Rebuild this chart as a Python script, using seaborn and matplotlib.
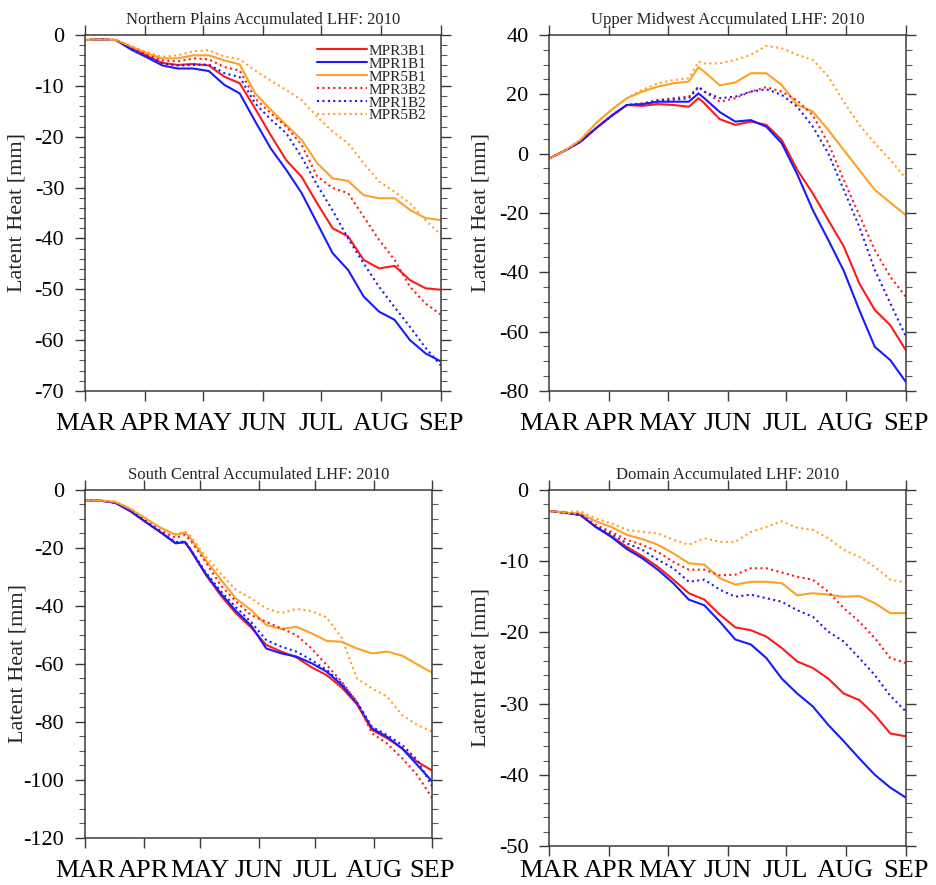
import numpy as np
import pandas as pd
import seaborn as sns
import matplotlib.pyplot as plt
from matplotlib.ticker import MultipleLocator

# days since 1 March 2010
MONTH_DAYS = [0, 31, 61, 92, 122, 153, 184]
MONTH_LABELS = ["MAR", "APR", "MAY", "JUN", "JUL", "AUG", "SEP"]

SERIES = ["MPR3B1", "MPR1B1", "MPR5B1", "MPR3B2", "MPR1B2", "MPR5B2"]

# ---- Northern Plains ----
np_days = [0, 8, 16, 24, 32, 40, 48, 56, 64, 72, 80, 88, 96, 104, 112, 120, 128, 136, 144, 152, 160, 168, 176, 184]
np_mpr3b1 = [-1.0, -0.9, -1.0, -2.6, -4.1, -5.5, -5.9, -5.7, -6.0, -8.2, -9.5, -14.5, -19.7, -24.6, -27.9, -33.1, -38.0, -39.6, -44.2, -45.9, -45.4, -48.2, -49.8, -50.1]
np_mpr1b1 = [-1.0, -0.9, -1.0, -2.9, -4.4, -6.0, -6.6, -6.6, -7.1, -9.8, -11.5, -17.0, -22.3, -26.5, -31.1, -37.0, -42.9, -46.2, -51.4, -54.4, -56.0, -60.0, -62.6, -64.2]
np_mpr5b1 = [-1.0, -0.9, -1.0, -2.3, -3.6, -4.6, -4.6, -4.0, -4.0, -5.0, -5.8, -11.5, -14.7, -17.7, -20.6, -25.2, -28.2, -28.7, -31.5, -32.1, -32.1, -34.4, -36.0, -36.4]
np_mpr3b2 = [-1.0, -0.9, -1.0, -2.5, -3.9, -5.0, -5.2, -4.6, -4.8, -6.3, -7.0, -12.5, -15.4, -18.0, -21.6, -27.8, -30.1, -31.1, -35.7, -40.3, -44.2, -49.5, -52.8, -55.0]
np_mpr1b2 = [-1.0, -0.9, -1.0, -2.8, -4.2, -5.6, -6.0, -5.9, -5.8, -7.5, -8.3, -13.5, -16.6, -19.3, -24.0, -29.5, -34.5, -40.0, -44.9, -49.5, -53.5, -57.4, -61.5, -65.0]
np_mpr5b2 = [-1.0, -0.9, -1.0, -2.2, -3.4, -4.3, -4.0, -3.2, -3.0, -4.2, -4.8, -7.0, -9.0, -10.8, -12.8, -16.1, -19.0, -21.3, -25.2, -28.8, -30.8, -33.1, -36.4, -39.3]

# ---- Upper Midwest ----
um_days = [0, 8, 16, 24, 32, 40, 48, 56, 64, 72, 77, 80, 88, 96, 104, 112, 120, 128, 136, 144, 152, 160, 168, 176, 184]
um_mpr3b1 = [-1.6, 1.0, 4.0, 8.5, 12.7, 16.4, 16.1, 16.7, 16.4, 15.8, 18.7, 17.0, 11.6, 9.7, 10.8, 9.7, 4.6, -5.5, -13.4, -22.4, -31.3, -43.7, -52.7, -57.8, -66.2]
um_mpr1b1 = [-1.6, 1.0, 4.0, 8.5, 12.7, 16.4, 16.7, 17.5, 17.5, 17.5, 20.3, 18.7, 14.0, 10.8, 11.3, 9.1, 3.5, -7.0, -19.0, -29.1, -39.5, -52.7, -65.1, -69.6, -76.9]
um_mpr5b1 = [-1.6, 1.0, 4.6, 10.2, 14.7, 18.7, 20.9, 22.6, 23.7, 24.3, 29.1, 27.6, 23.0, 24.0, 27.1, 27.1, 23.1, 16.4, 14.2, 8.0, 1.2, -5.5, -12.2, -16.5, -20.7]
um_mpr3b2 = [-1.6, 1.0, 4.0, 8.5, 12.7, 16.4, 16.9, 18.1, 18.7, 19.2, 22.6, 20.9, 17.5, 18.7, 20.9, 22.4, 20.9, 17.9, 13.0, 3.5, -8.9, -20.7, -32.5, -41.5, -48.2]
um_mpr1b2 = [-1.6, 1.0, 4.0, 8.5, 12.7, 16.4, 16.8, 17.8, 18.2, 18.7, 22.4, 20.9, 18.7, 19.2, 20.9, 21.7, 19.8, 15.8, 9.1, 0.1, -12.2, -24.6, -39.2, -50.4, -61.5]
um_mpr5b2 = [-1.6, 1.0, 4.6, 10.2, 14.7, 18.7, 21.5, 23.7, 24.8, 25.4, 31.0, 30.4, 30.4, 31.6, 33.3, 36.3, 35.5, 33.3, 31.6, 26.0, 17.5, 9.7, 3.5, -2.1, -8.3]

# ---- South Central ----
sc_days = [0, 8, 16, 24, 32, 40, 48, 53, 56, 64, 72, 80, 88, 96, 104, 112, 120, 128, 136, 144, 152, 160, 168, 176, 184]
sc_mpr3b1 = [-3.7, -3.7, -4.4, -7.3, -11.0, -14.6, -18.4, -18.0, -20.8, -29.3, -36.5, -42.6, -47.5, -53.5, -55.8, -57.8, -61.2, -63.9, -68.2, -73.9, -82.8, -85.7, -89.2, -93.8, -96.9]
sc_mpr1b1 = [-3.7, -3.7, -4.4, -7.3, -11.0, -14.6, -18.4, -18.0, -20.8, -29.0, -35.8, -41.8, -46.8, -54.7, -56.4, -57.5, -59.8, -62.7, -67.3, -73.6, -82.3, -85.2, -89.2, -94.9, -100.7]
sc_mpr5b1 = [-3.7, -3.7, -4.1, -6.5, -9.8, -13.0, -15.5, -14.7, -16.8, -24.2, -31.0, -37.5, -41.5, -46.6, -48.0, -47.2, -49.5, -52.1, -52.4, -54.7, -56.4, -55.8, -57.2, -60.2, -63.1]
sc_mpr3b2 = [-3.7, -3.7, -4.4, -7.0, -10.5, -14.0, -16.5, -15.5, -17.5, -25.0, -33.0, -38.5, -43.2, -45.5, -47.8, -50.1, -54.7, -60.4, -66.2, -73.1, -84.0, -87.5, -92.6, -98.4, -106.4]
sc_mpr1b2 = [-3.7, -3.7, -4.4, -7.2, -10.8, -14.4, -18.0, -17.8, -20.5, -28.5, -35.0, -40.5, -45.6, -51.8, -54.1, -55.8, -58.7, -62.1, -66.7, -73.1, -81.7, -84.6, -88.0, -93.2, -102.4]
sc_mpr5b2 = [-3.7, -3.7, -4.1, -6.5, -9.8, -13.2, -15.2, -14.5, -16.0, -23.0, -29.0, -34.5, -37.4, -40.9, -42.5, -41.1, -41.8, -44.0, -51.0, -65.0, -68.5, -71.3, -77.7, -81.1, -83.4]

# ---- Domain ----
dm_days = [0, 8, 16, 24, 32, 40, 48, 56, 64, 72, 80, 88, 96, 104, 112, 120, 128, 136, 144, 152, 160, 168, 176, 184]
dm_mpr3b1 = [-2.95, -3.2, -3.5, -5.2, -6.5, -8.0, -9.3, -10.8, -12.6, -14.5, -15.4, -17.5, -19.3, -19.7, -20.6, -22.2, -24.1, -25.0, -26.5, -28.6, -29.5, -31.6, -34.2, -34.6]
dm_mpr1b1 = [-2.95, -3.2, -3.5, -5.2, -6.6, -8.3, -9.6, -11.2, -13.1, -15.4, -16.2, -18.5, -21.0, -21.7, -23.6, -26.5, -28.6, -30.4, -33.0, -35.3, -37.7, -40.0, -41.8, -43.2]
dm_mpr5b1 = [-2.95, -3.2, -3.3, -4.4, -5.2, -6.3, -6.9, -7.7, -8.9, -10.3, -10.5, -12.4, -13.3, -12.9, -12.9, -13.1, -14.8, -14.5, -14.7, -15.0, -14.9, -15.9, -17.3, -17.3]
dm_mpr3b2 = [-2.95, -3.2, -3.4, -4.9, -5.9, -7.0, -7.7, -8.7, -10.1, -11.2, -11.2, -12.0, -11.9, -11.0, -11.0, -11.6, -12.2, -12.6, -14.3, -16.6, -18.5, -20.8, -23.6, -24.3]
dm_mpr1b2 = [-2.95, -3.2, -3.5, -5.2, -6.2, -7.5, -8.4, -9.8, -11.0, -12.9, -12.6, -14.0, -15.0, -14.7, -15.2, -15.7, -16.9, -17.8, -19.9, -21.3, -23.6, -26.0, -28.9, -31.1]
dm_mpr5b2 = [-2.95, -3.1, -3.0, -4.0, -4.7, -5.6, -5.9, -6.1, -7.0, -7.7, -6.8, -7.3, -7.3, -5.9, -5.2, -4.4, -5.3, -5.6, -6.8, -8.4, -9.4, -10.8, -12.6, -13.0]

COLORS = ["#ff1a1a", "#1a1aff", "#ffa126", "#ff1a1a", "#1a1aff", "#ffa126"]
STYLES = ["-", "-", "-", (0, (1, 1.6)), (0, (1, 1.6)), (0, (1, 1.6))]

panels = [
    ("Northern Plains Accumulated LHF: 2010", np_days,
     [np_mpr3b1, np_mpr1b1, np_mpr5b1, np_mpr3b2, np_mpr1b2, np_mpr5b2],
     (-70, 0), 10, 2, [0.0908, 0.5582, 0.3803, 0.4023], True, 9),
    ("Upper Midwest Accumulated LHF: 2010", um_days,
     [um_mpr3b1, um_mpr1b1, um_mpr5b1, um_mpr3b2, um_mpr1b2, um_mpr5b2],
     (-80, 40), 20, 5, [0.5869, 0.5582, 0.3808, 0.4023], False, 9),
    ("South Central Accumulated LHF: 2010", sc_days,
     [sc_mpr3b1, sc_mpr1b1, sc_mpr5b1, sc_mpr3b2, sc_mpr1b2, sc_mpr5b2],
     (-120, 0), 20, 5, [0.0908, 0.0535, 0.3711, 0.3929], False, 9),
    ("Domain Accumulated LHF: 2010", dm_days,
     [dm_mpr3b1, dm_mpr1b1, dm_mpr5b1, dm_mpr3b2, dm_mpr1b2, dm_mpr5b2],
     (-50, 0), 10, 2, [0.5869, 0.0441, 0.3808, 0.4023], False, 3),
]

sns.set_style("ticks")
plt.rcParams['font.family'] = ['Liberation Serif', 'DejaVu Serif']
plt.rcParams['axes.unicode_minus'] = False
plt.rcParams['axes.edgecolor'] = '#3a3a3a'
plt.rcParams['axes.linewidth'] = 1.1

fig = plt.figure(figsize=(9.36, 8.85), dpi=100)

for title, days, vals, ylim, major, minor, rect, show_leg, xpad in panels:
    ax = fig.add_axes(rect)
    for name, v, c, ls in zip(SERIES, vals, COLORS, STYLES):
        sns.lineplot(x=days, y=v, color=c, linestyle=ls, linewidth=1.5,
                     label=name, ax=ax, legend=False)
    ax.set_xlim(0, 184)
    ax.set_ylim(*ylim)
    ax.set_xticks(MONTH_DAYS)
    ax.set_xticklabels(MONTH_LABELS)
    ax.yaxis.set_major_locator(MultipleLocator(major))
    ax.yaxis.set_minor_locator(MultipleLocator(minor))
    ax.tick_params(axis='x', which='major', direction='out', length=7, width=1,
                   top=True, bottom=True, labelsize=19, pad=xpad, colors='#3a3a3a',
                   labelcolor='black')
    ax.tick_params(axis='y', which='major', direction='out', length=7, width=1,
                   left=True, right=True, labelsize=16, pad=8, colors='#3a3a3a',
                   labelcolor='black')
    ax.tick_params(axis='y', which='minor', direction='out', length=4, width=0.8,
                   left=True, right=True, colors='#5a5a5a')
    ax.set_title(title, fontsize=12, pad=8)
    ax.set_ylabel("Latent Heat [mm]", fontsize=16)
    ax.yaxis.set_label_coords(-0.165, 0.5)
    ax.set_xlabel("")
    if show_leg:
        ax.legend(loc='upper right', bbox_to_anchor=(0.985, 1.0), frameon=False,
                  fontsize=11, handlelength=3.3, handletextpad=0.1,
                  labelspacing=-0.05, borderaxespad=0.2)

fig.savefig("out.png", dpi=100)
